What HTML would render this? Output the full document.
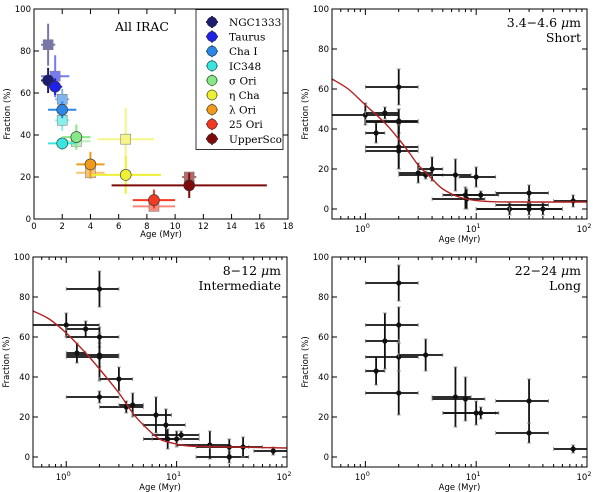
<!DOCTYPE html>
<html><head><meta charset="utf-8"><style>
body{margin:0;background:#fff}
svg{display:block}
.tk{font-family:"DejaVu Sans","Liberation Sans",sans-serif;font-size:8.5px;fill:#000}
.ttl{font-family:"DejaVu Serif","Liberation Serif",serif;font-size:12.5px;fill:#000}
.lg{font-family:"DejaVu Serif","Liberation Serif",serif;font-size:10.5px;fill:#000}
</style></head><body>
<svg id="c" width="600" height="492" viewBox="0 0 600 492" xmlns="http://www.w3.org/2000/svg"></svg>
<script>
// ---- Panel 1 data (All IRAC) ----
const clusterNames = ["NGC1333","Taurus","Cha I","IC348","\u03c3 Ori","\u03b7 Cha","\u03bb Ori","25 Ori","UpperSco"];
const clusterColors = ["#1c1c70","#1f22e6","#2b86e6","#38e6e0","#86e886","#eef036","#f29a1c","#f23a22","#7e0a0a"];
const circAge = [1,1.5,2,2,3,6.5,4,8.5,11];
const circAgeLo = [0.5,1,1,1,2,4,3,7,5.5];
const circAgeHi = [1.5,2,3,3,4,9,5,10,16.5];
const circFrac = [66,63,52,36,39,21,26,9,16];
const circFracLo = [60,59,48,33,33,12,20,5,10];
const circFracHi = [72,67,56,39,45,30,32,14,22];
const sqAge = [1,1.5,2,2,3,6.5,4,8.5,11];
const sqAgeLo = [0.5,0.5,1.5,1.5,2,4.5,3,7,10.5];
const sqAgeHi = [1.5,2.5,2.5,2.5,4,8.5,5,10,11.5];
const sqFrac = [83,68,57,47,37,38,22,6,20];
const sqFracLo = [73,58,52,42,33,23,19,4,18];
const sqFracHi = [93,78,62,52,41,53,26,8,22];
const p1XTicks = [0,2,4,6,8,10,12,14,16,18];
const yTicks = [0,20,40,60,80,100];

// ---- Short (3.4-4.6 um) ----
const shAge=[1,1.5,1.25,2,2,2,2,2,3,3.5,4,6.5,10,8,11,8.2,20,30,30,30,40,75];
const shAgeLo=[0.5,1,1,1,1,1,1,1,2,2,3,4,7,5,6,4,10,15,15,10,20,50];
const shAgeHi=[2,2,1.5,3,3,3,3,3,4,5,5,9,15,11,16,12,30,45,45,60,60,100];
const shFrac=[47,48,38,61,44,43.5,31,29,18,17,20,17,16,7,7,5,0,8,2,0,0,4];
const shFracLo=[42,45,33,52,38,38,20,20,13,15,14,9,11,0,5,0,-3,4,-1,-3,-3,1];
const shFracHi=[53,51,43,70,50,50,42,42,23,19,26,25,21,11,9,10,3,12,5,3,3,7];
const shFitAge=[0.5,0.7,1,1.5,2,2.5,3,4,5,7,10,15,30,100];
const shFitFrac=[65,60,52,43,35,28,22,15,10,6,4.2,3.6,3.5,3.5];

// ---- Intermediate (8-12 um) ----
const imAge=[1,1.5,1.25,2,2,2,2,2,3,3.5,4,6.5,8,8.3,10,11,20,30,30,40,75];
const imAgeLo=[0.5,1,1,1,1,1,1,1,2,2,3,4,5,5,6,6,10,15,15,20,50];
const imAgeHi=[2,2,1.5,3,3,3,3,3,4,5,5,9,12,11,16,16,30,45,45,60,100];
const imFrac=[66,64,52,84,60,51,50,30,39,25,26,21,16,9,9,11,6,5,0,5,3];
const imFracLo=[60,60,47,75,55,45,38,27,33,22,20,12,8,4,5,9,-1,1,-3,0,1];
const imFracHi=[72,68,57,93,65,57,62,33,45,28,32,30,24,14,13,13,13,9,3,10,5];
const imFitAge=[0.5,0.7,1,1.5,2,3,4,5,7,10,13,30,100];
const imFitFrac=[73,69,62,52,44,32,22,16,9,6.5,5.5,5,4.5];

// ---- Long (22-24 um) ----
const lgAge=[2,2,1.5,1.25,2,2,3.5,6.5,8,10,11,30,30,75];
const lgAgeLo=[1,1,1,1,1,1,2,4,4,5,5,15,15,50];
const lgAgeHi=[3,3,2,1.5,3,3,5,9,12,15,16,45,45,100];
const lgFrac=[87,66,58,43,50,32,51,30,29,22,22,28,12,4];
const lgFracLo=[78,57,44,36,43,21,43,15,18,16,19,17,7,2];
const lgFracHi=[96,75,72,50,57,43,59,45,40,28,25,39,17,6];

const NS="http://www.w3.org/2000/svg";
const svg=document.getElementById('c');
function el(tag,attrs,parent,text){const e=document.createElementNS(NS,tag);for(const k in attrs)e.setAttribute(k,attrs[k]);if(text!==undefined)e.textContent=text;(parent||svg).appendChild(e);return e;}

function makePanel(name,L,R,T,B,xmin,xmax,ymin,ymax,log){
  const g=el('g',{},svg);
  
  
  const lx=v=>log?Math.log10(v):v;
  const X=v=>L+(lx(v)-lx(xmin))/(lx(xmax)-lx(xmin))*(R-L);
  const Y=v=>B-(v-ymin)/(ymax-ymin)*(B-T);
  return {g,X,Y,L,R,T,B};
}
function frame(p,xt,xlabelFn,log){
  const f=el('rect',{x:p.L,y:p.T,width:p.R-p.L,height:p.B-p.T,fill:'none',stroke:'#000','stroke-width':1},p.g);
  
  
  yTicks.forEach(v=>{const y=p.Y(v);
    el('line',{x1:p.L,x2:p.L+5,y1:y,y2:y,stroke:'#000'},p.g);
    el('line',{x1:p.R,x2:p.R-5,y1:y,y2:y,stroke:'#000'},p.g);
    const t=el('text',{x:p.L-3,y:y+3,'text-anchor':'end',class:'tk'},p.g,String(v));
    
    
  });
  if(log){
    [1,10,100].forEach((d,i)=>{const x=p.X(d);
      el('line',{x1:x,x2:x,y1:p.B,y2:p.B-6,stroke:'#000'},p.g);
      el('line',{x1:x,x2:x,y1:p.T,y2:p.T+6,stroke:'#000'},p.g);
      const t=el('text',{x:x-3,y:p.B+13,'text-anchor':'middle',class:'tk'},p.g,'10');
      
      
      el('tspan',{dy:-4,'font-size':'6.5px'},t,String(i));
    });
    [0.1,1,10].forEach(d=>{for(let k=2;k<=9;k++){const v=d*k;if(v<0.5||v>100)continue;const x=p.X(v);
      el('line',{x1:x,x2:x,y1:p.B,y2:p.B-3,stroke:'#000'},p.g);
      el('line',{x1:x,x2:x,y1:p.T,y2:p.T+3,stroke:'#000'},p.g);}});
  } else {
    xt.forEach(v=>{const x=p.X(v);
      el('line',{x1:x,x2:x,y1:p.B,y2:p.B-5,stroke:'#000'},p.g);
      el('line',{x1:x,x2:x,y1:p.T,y2:p.T+5,stroke:'#000'},p.g);
      const t=el('text',{x:x,y:p.B+10,'text-anchor':'middle',class:'tk'},p.g,String(v));
      
      
    });
  }
  const xl=el('text',{x:(p.L+p.R)/2,y:p.B+(log?23:18),'text-anchor':'middle',class:'tk'},p.g,'Age (Myr)');
  
  
  const cy=(p.T+p.B)/2;
  const yl=el('text',{x:p.L-24,y:cy,'text-anchor':'middle',class:'tk',transform:`rotate(-90 ${p.L-24} ${cy})`},p.g,'Fraction (%)');
  
  
}
function errPoints(p,ax,axlo,axhi,fr,frlo,frhi,color,r){
  ax.forEach((a,i)=>{
    const x=p.X(a),y=p.Y(fr[i]);
    const gg=el('g',{},p.g);
    
    
    el('line',{x1:p.X(Math.max(axlo[i],0.5)),x2:p.X(axhi[i]),y1:y,y2:y,stroke:color,'stroke-width':1.8},gg);
    el('line',{x1:x,x2:x,y1:p.Y(frlo[i]),y2:p.Y(frhi[i]),stroke:color,'stroke-width':1.8},gg);
    [axlo[i],axhi[i]].forEach(v=>{if(v<=0.5)return;const xx=p.X(v);el('line',{x1:xx,x2:xx,y1:y-2,y2:y+2,stroke:'#888','stroke-width':0.8},gg);});
    [frlo[i],frhi[i]].forEach(v=>{const yy=p.Y(v);el('line',{x1:x-2,x2:x+2,y1:yy,y2:yy,stroke:'#888','stroke-width':0.8},gg);});
    el('circle',{cx:x,cy:y,r:r,fill:color},gg);
  });
}
function fitLine(p,ages,fr){
  const pts=ages.map((a,i)=>[p.X(a),p.Y(fr[i])]);
  let d='M'+pts[0][0].toFixed(1)+','+pts[0][1].toFixed(1);
  for(let i=0;i<pts.length-1;i++){
    const p0=pts[Math.max(i-1,0)],p1=pts[i],p2=pts[i+1],p3=pts[Math.min(i+2,pts.length-1)];
    const c1=[p1[0]+(p2[0]-p0[0])/6,p1[1]+(p2[1]-p0[1])/6];
    const c2=[p2[0]-(p3[0]-p1[0])/6,p2[1]-(p3[1]-p1[1])/6];
    d+='C'+c1.map(v=>v.toFixed(1)).join(',')+' '+c2.map(v=>v.toFixed(1)).join(',')+' '+p2.map(v=>v.toFixed(1)).join(',');
  }
  const l=el('path',{d:d,fill:'none',stroke:'#b22222','stroke-width':1.4},p.g);
  
  
}
function title(p,lines){
  lines.forEach((s,i)=>{const t=el('text',{x:p.R-6,y:p.T+18+i*15,'text-anchor':'end',class:'ttl'},p.g);
    
    
    t.innerHTML=s;});
}

// Panel 1
const p1=makePanel('all-irac-panel',34,288,9,219,0,18,0,100,false);
clusterNames.forEach((n,i)=>{
  const c=clusterColors[i];
  const gs=el('g',{opacity:0.6},p1.g);
  
  
  const x=p1.X(sqAge[i]),y=p1.Y(sqFrac[i]);
  el('line',{x1:p1.X(sqAgeLo[i]),x2:p1.X(sqAgeHi[i]),y1:y,y2:y,stroke:c,'stroke-width':2},gs);
  el('line',{x1:x,x2:x,y1:p1.Y(sqFracLo[i]),y2:p1.Y(sqFracHi[i]),stroke:c,'stroke-width':2},gs);
  el('rect',{x:x-5,y:y-5,width:10,height:10,fill:c,stroke:'#333','stroke-width':0.6},gs);
});
clusterNames.forEach((n,i)=>{
  const c=clusterColors[i];
  const gc=el('g',{},p1.g);
  
  
  const x=p1.X(circAge[i]),y=p1.Y(circFrac[i]);
  el('line',{x1:p1.X(circAgeLo[i]),x2:p1.X(circAgeHi[i]),y1:y,y2:y,stroke:c,'stroke-width':2},gc);
  el('line',{x1:x,x2:x,y1:p1.Y(circFracLo[i]),y2:p1.Y(circFracHi[i]),stroke:c,'stroke-width':2},gc);
  el('circle',{cx:x,cy:y,r:5.5,fill:c,stroke:'#333','stroke-width':0.6},gc);
});
frame(p1,p1XTicks,null,false);
const at=el('text',{x:142,y:31,'text-anchor':'middle',class:'ttl'},p1.g,'All IRAC');


const lgBox=el('g',{},p1.g);


el('rect',{x:196,y:9.5,width:87,height:140,fill:'#fff',stroke:'#000','stroke-width':0.8},lgBox);
clusterNames.forEach((n,i)=>{
  const y=22+i*14.6;
  const e=el('g',{},lgBox);
  
  
  el('line',{x1:206,x2:218,y1:y,y2:y,stroke:clusterColors[i],'stroke-width':2},e);
  el('line',{x1:212,x2:212,y1:y-6,y2:y+6,stroke:clusterColors[i],'stroke-width':2},e);
  el('circle',{cx:212,cy:y,r:5,fill:clusterColors[i],stroke:'#333','stroke-width':0.6},e);
  el('text',{x:229,y:y+4,class:'lg'},e,n);
});

// Panel 2
const p2=makePanel('short-panel',332,587,9,219,0.5,100,-5,100,true);
errPoints(p2,shAge,shAgeLo,shAgeHi,shFrac,shFracLo,shFracHi,'#111',2.6);
fitLine(p2,shFitAge,shFitFrac);
frame(p2,null,null,true);
title(p2,['3.4\u22124.6 <tspan font-style="italic">\u03bc</tspan>m','Short']);

// Panel 3
const p3=makePanel('intermediate-panel',33,287,257,467,0.5,100,-5,100,true);
errPoints(p3,imAge,imAgeLo,imAgeHi,imFrac,imFracLo,imFracHi,'#111',2.6);
fitLine(p3,imFitAge,imFitFrac);
frame(p3,null,null,true);
title(p3,['8\u221212 <tspan font-style="italic">\u03bc</tspan>m','Intermediate']);

// Panel 4
const p4=makePanel('long-panel',332,587,257,467,0.5,100,-5,100,true);
errPoints(p4,lgAge,lgAgeLo,lgAgeHi,lgFrac,lgFracLo,lgFracHi,'#111',2.6);
frame(p4,null,null,true);
title(p4,['22\u221224 <tspan font-style="italic">\u03bc</tspan>m','Long']);
</script>
</body></html>
